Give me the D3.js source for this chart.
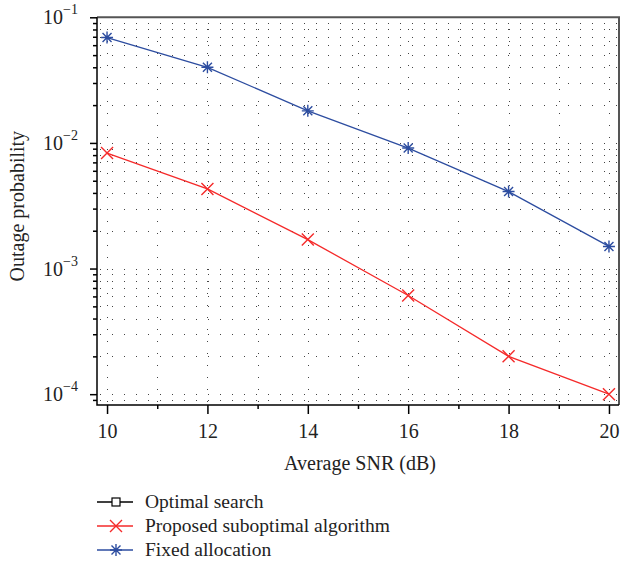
<!DOCTYPE html>
<html>
<head>
<meta charset="utf-8">
<script src="https://cdn.jsdelivr.net/npm/d3@7"></script>
<style>
  html, body { margin: 0; padding: 0; background: #fff; }
  svg { display: block; font-family: "Liberation Serif", "DejaVu Serif", serif; }
</style>
</head>
<body>
<div id="chart"></div>
<script>
// ---- data ----
const snr = [10, 12, 14, 16, 18, 20];
const proposed = [0.0083, 0.0043, 0.0017, 0.00061, 0.0002, 0.0001];
const fixedAlloc = [0.069, 0.040, 0.018, 0.0091, 0.0041, 0.0015];
const xTicks = [10, 12, 14, 16, 18, 20];
const xMinorTicks = [11, 13, 15, 17, 19];
const yTickExps = [-1, -2, -3, -4];
const legendLabels = ["Optimal search", "Proposed suboptimal algorithm", "Fixed allocation"];

const W = 621, H = 570;
const svg = d3.select("#chart").append("svg").attr("width", W).attr("height", H);

const x = d3.scaleLinear().domain([9.8, 20.2]).range([97, 619]);
const y = d3.scaleLog().domain([8.2e-5, 0.1]).range([405, 17.3]);
const [x0, x1] = x.range();
const [yb, yt] = y.range();

// grid (dotted)
const gridVals = [];
for (let k = -5; k <= -1; k++) for (let m = 1; m <= 9; m++) {
  const v = m * Math.pow(10, k);
  if (v >= 8.2e-5 && v <= 0.1 + 1e-12) gridVals.push(v);
}
const grid = svg.append("g").attr("stroke", "#444").attr("stroke-width", 1).attr("stroke-dasharray", "1,11");
grid.selectAll("line.h").data(gridVals).join("line").attr("class", "h")
  .attr("x1", x0 + 3).attr("x2", x1).attr("y1", d => Math.round(y(d)) + 0.5).attr("y2", d => Math.round(y(d)) + 0.5);
grid.selectAll("line.v").data(d3.range(10, 21)).join("line").attr("class", "v")
  .attr("x1", d => Math.round(x(d)) + 0.5).attr("x2", d => Math.round(x(d)) + 0.5)
  .attr("y1", yb - 3).attr("y2", yt);

// top/right border
svg.append("path").attr("d", `M${x0},${yt}H${x1}V${yb}`).attr("fill", "none")
  .attr("stroke", "#555").attr("stroke-width", 2);

// x axis
const xAxis = svg.append("g").attr("transform", `translate(0,${yb})`);
xAxis.call(d3.axisBottom(x).tickValues(xTicks).tickSize(9).tickFormat(d3.format("d")));
xAxis.append("g").call(d3.axisBottom(x).tickValues(xMinorTicks).tickSize(4).tickFormat(""));
xAxis.selectAll(".domain").remove();
xAxis.selectAll("line").attr("stroke", "#000").attr("stroke-width", 1.5);
xAxis.selectAll("text").attr("font-size", 20).attr("font-family", "Liberation Serif").attr("fill", "#222").attr("dy", null).attr("y", 33);

// y axis
const yAxis = svg.append("g").attr("transform", `translate(${x0},0)`);
const yMinor = gridVals.filter(v => !yTickExps.some(e => Math.abs(v - Math.pow(10, e)) < 1e-12));
yAxis.call(d3.axisLeft(y).tickValues(yTickExps.map(e => Math.pow(10, e))).tickSize(7).tickFormat(""));
yAxis.append("g").call(d3.axisLeft(y).tickValues(yMinor).tickSize(4).tickFormat(""));
yAxis.selectAll(".domain").remove();
yAxis.selectAll("line").attr("stroke", "#000").attr("stroke-width", 1.5);

const ylab = svg.append("g").selectAll("text").data(yTickExps).join("text")
  .attr("x", 78).attr("y", d => y(Math.pow(10, d)) + 7)
  .attr("text-anchor", "end").attr("font-size", 20).attr("fill", "#222");
ylab.append("tspan").text("10");
ylab.append("tspan").attr("dy", -10).attr("font-size", 14).text(d => "\u2212" + Math.abs(d));

// axis lines
svg.append("path").attr("d", `M${x0},${yt}V${yb}H${x1}`).attr("fill", "none")
  .attr("stroke", "#000").attr("stroke-width", 1.5);

// axis titles
svg.append("text").attr("x", 360).attr("y", 470).attr("text-anchor", "middle")
  .attr("font-size", 20).attr("fill", "#222").text("Average SNR (dB)");
svg.append("text").attr("transform", `translate(24,${(yt + yb) / 2 - 5}) rotate(-90)`)
  .attr("text-anchor", "middle").attr("font-size", 20).attr("fill", "#222").text("Outage probability");

// series
const red = "#f52a2a", blue = "#2d4da0";
const line = d3.line().x(d => x(d[0])).y(d => y(d[1]));
function xMark(g, cx, cy, r, c) {
  g.append("path").attr("d", `M${cx - r},${cy - r}L${cx + r},${cy + r}M${cx - r},${cy + r}L${cx + r},${cy - r}`)
    .attr("stroke", c).attr("stroke-width", 1.4).attr("fill", "none");
}
function starMark(g, cx, cy, r, c) {
  const d = r * 0.75;
  g.append("path").attr("d", `M${cx - r},${cy}H${cx + r}M${cx},${cy - r}V${cy + r}M${cx - d},${cy - d}L${cx + d},${cy + d}M${cx - d},${cy + d}L${cx + d},${cy - d}`)
    .attr("stroke", c).attr("stroke-width", 1.4).attr("fill", "none");
}
const propData = snr.map((s, i) => [s, proposed[i]]);
const fixData = snr.map((s, i) => [s, fixedAlloc[i]]);
svg.append("path").datum(propData).attr("d", line).attr("fill", "none").attr("stroke", red).attr("stroke-width", 1.3);
svg.append("path").datum(fixData).attr("d", line).attr("fill", "none").attr("stroke", blue).attr("stroke-width", 1.3);
const mk = svg.append("g");
propData.forEach(d => xMark(mk, x(d[0]), y(d[1]), 6, red));
fixData.forEach(d => starMark(mk, x(d[0]), y(d[1]), 6, blue));

// legend
const lg = svg.append("g");
const rows = [502, 526, 550];
const colors = ["#000", red, blue];
rows.forEach((ry, i) => {
  lg.append("line").attr("x1", 97).attr("x2", 133).attr("y1", ry).attr("y2", ry)
    .attr("stroke", colors[i]).attr("stroke-width", 1.3);
  if (i === 0) lg.append("rect").attr("x", 112).attr("y", ry - 4).attr("width", 8).attr("height", 8)
    .attr("fill", "#fff").attr("stroke", "#000").attr("stroke-width", 1.2);
  if (i === 1) xMark(lg, 116, ry, 6, red);
  if (i === 2) starMark(lg, 116, ry, 6, blue);
  lg.append("text").attr("x", 145).attr("y", ry + 6).attr("font-size", 19.5).attr("fill", "#222").text(legendLabels[i]);
});
</script>
</body>
</html>
